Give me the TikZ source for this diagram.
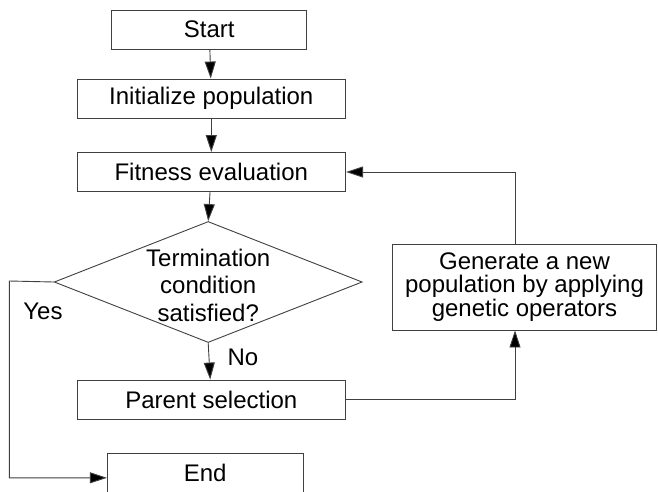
\documentclass[tikz,border=0pt]{standalone}
\usepackage{fontspec}
\setmainfont{Liberation Sans}
\usetikzlibrary{shapes.geometric,arrows.meta}
\tikzset{
  box/.style={draw=black!75, line width=0.9pt, fill=white, inner sep=0pt, font=\fontsize{24}{27}\selectfont},
  arr/.style={draw=black!75, line width=0.9pt, -{Triangle[length=17pt,width=11pt,fill=black]}},
  lbl/.style={font=\fontsize{24}{27}\selectfont, inner sep=0pt}
}
\begin{document}
\begin{tikzpicture}[x=1pt,y=-1pt]
\useasboundingbox[fill=white] (0,0) rectangle (658,491);
\node[box, minimum width=195pt, minimum height=39pt] (start) at (209.3,29.5) {Start};
\node[box, minimum width=268.7pt, minimum height=39pt] (init) at (211.3,98.5) {Initialize population};
\node[box, minimum width=268.7pt, minimum height=39pt] (fit) at (211.3,172) {Fitness evaluation};
\node[box, diamond, minimum width=308pt, minimum height=121pt, fill=none] (dia) at (208.2,282) {};
\node[lbl, align=center, font=\fontsize{24}{27.5}\selectfont] (diat) at (208.2,285) {Termination\\condition\\satisfied?};
\node[box, minimum width=268.7pt, minimum height=39pt] (par) at (211.3,399.5) {Parent selection};
\node[box, minimum width=195.7pt, minimum height=39pt] (end) at (205.2,472.8) {End};
\node[box, minimum width=264pt, minimum height=86pt, align=center, font=\fontsize{24}{23.3}\selectfont] (gen) at (524.5,287) {Generate a new\\population by applying\\genetic operators};
\node[lbl] (yes) at (43,311) {Yes};
\node[lbl] (no) at (243,357) {No};
\coordinate (yl) at (9.3,281);
\draw[arr] (start) -- (init);
\draw[arr] (init) -- (fit);
\draw[arr] (fit) -- (dia.north);
\draw[arr] (dia.south) -- (par);
\draw[arr] (dia.west) -- (yl) |- ([yshift=-5pt]end.west);
\draw[arr] (par.east) -| ([xshift=-9.5pt]gen.south);
\draw[arr] ([xshift=-9.5pt]gen.north) |- (fit.east);
\end{tikzpicture}
\end{document}
